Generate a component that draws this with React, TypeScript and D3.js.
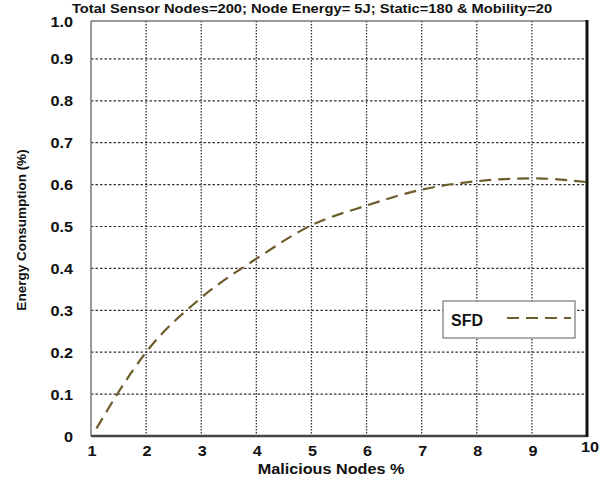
import React from "react";
import * as d3 from "d3";

const title = "Total Sensor Nodes=200; Node Energy= 5J; Static=180 & Mobility=20";
const xLabel = "Malicious Nodes %";
const yLabel = "Energy Consumption (%)";
const seriesName = "SFD";

const maliciousPct = [1.1, 1.5, 2, 3, 4, 5, 6, 7, 8, 9, 10];
const energySFD = [0.018, 0.105, 0.2, 0.33, 0.423, 0.503, 0.55, 0.588, 0.608, 0.615, 0.606];

const xTicks = [1, 2, 3, 4, 5, 6, 7, 8, 9, 10];
const yTicks = [0, 0.1, 0.2, 0.3, 0.4, 0.5, 0.6, 0.7, 0.8, 0.9];

const W = 604;
const H = 481;
const left = 91;
const right = 587;
const top = 21;
const bottom = 436;

// Bold text, optionally widened horizontally around its anchor point
function Label(props: {
  x: number;
  y: number;
  size: number;
  sx?: number;
  anchor?: "start" | "middle" | "end";
  children: React.ReactNode;
}) {
  const { x, y, size, sx = 1, anchor = "middle", children } = props;
  return (
    <text
      transform={`translate(${x},${y}) scale(${sx},1)`}
      textAnchor={anchor}
      fontSize={size}
      fontWeight="bold"
      fill="#111"
    >
      {children}
    </text>
  );
}

export default function App() {
  const x = d3.scaleLinear().domain([1, 10]).range([left, right]);
  const y = d3.scaleLinear().domain([0, 1]).range([bottom, 17]);

  const line = d3
    .line<number>()
    .x((_, i) => x(maliciousPct[i]))
    .y((d) => y(d))
    .curve(d3.curveMonotoneX);

  const font = "'Liberation Sans', Arial, sans-serif";
  const lineColor = "#6e5c2c";

  return (
    <svg width={W} height={H} style={{ position: "absolute", left: 0, top: 0 }} fontFamily={font}>
      <rect width={W} height={H} fill="#fff" />
      <Label x={312} y={13} size={13.5} sx={1.09}>
        {title}
      </Label>

      {/* grid */}
      {xTicks.slice(1, -1).map((t) => (
        <line key={"gx" + t} x1={x(t)} x2={x(t)} y1={top} y2={bottom} stroke="#333" strokeWidth={1.3} strokeDasharray="1.5,1.5" />
      ))}
      {yTicks.slice(1).map((t) => (
        <line key={"gy" + t} x1={left} x2={right} y1={y(t)} y2={y(t)} stroke="#333" strokeWidth={1.2} strokeDasharray="2.5,2" />
      ))}

      {/* frame */}
      <line x1={left} x2={right} y1={top} y2={top} stroke="#777" strokeWidth={1.3} />
      <line x1={left} x2={left} y1={top} y2={bottom} stroke="#777" strokeWidth={1.5} />
      <line x1={left} x2={right} y1={bottom} y2={bottom} stroke="#444" strokeWidth={2.5} />
      <line x1={right} x2={right} y1={top - 1} y2={bottom + 1} stroke="#111" strokeWidth={3} />

      {/* series */}
      <path d={line(energySFD) ?? ""} fill="none" stroke={lineColor} strokeWidth={2.2} strokeDasharray="12,7" />

      {/* y ticks */}
      {yTicks.map((t) => (
        <Label key={"ty" + t} x={73} y={y(t) + 5.5} size={15} sx={1.08} anchor="end">
          {t === 0 ? "0" : t.toFixed(1)}
        </Label>
      ))}
      <Label x={73} y={27} size={15} sx={1.08} anchor="end">
        1.0
      </Label>

      {/* x ticks */}
      {xTicks.map((t) => (
        <Label key={"tx" + t} x={x(t) + (t === 10 ? 3 : 1)} y={t === 10 ? 452 : 456} size={15} sx={1.08}>
          {t}
        </Label>
      ))}

      <Label x={331} y={474} size={15} sx={1.08}>
        {xLabel}
      </Label>
      <text transform={`translate(26,230) rotate(-90)`} textAnchor="middle" fontSize={13.5} fontWeight="bold" fill="#111">
        {yLabel}
      </text>

      {/* legend */}
      <rect x={443} y={301} width={132} height={37} fill="#fff" stroke="#777" strokeWidth={1.2} />
      <Label x={451} y={326} size={16} anchor="start">
        {seriesName}
      </Label>
      <line x1={507} x2={571} y1={318} y2={318} stroke={lineColor} strokeWidth={2.2} strokeDasharray="12,7" />
    </svg>
  );
}
